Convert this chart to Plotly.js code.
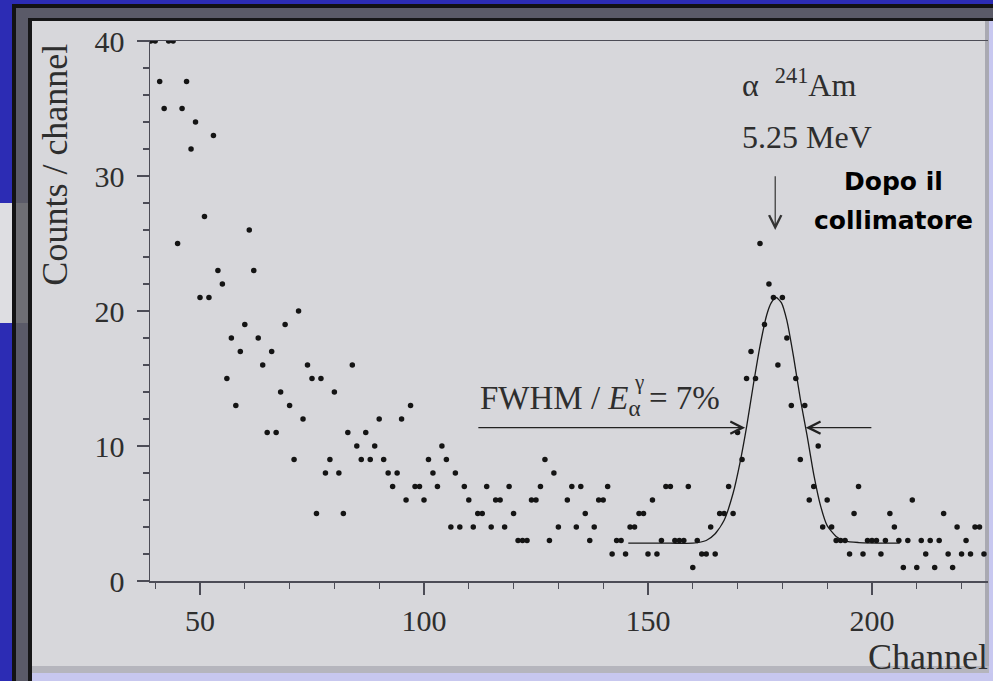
<!DOCTYPE html>
<html>
<head>
<meta charset="utf-8">
<script src="https://cdn.plot.ly/plotly-3.0.1.min.js"></script>
<style>
html,body{margin:0;padding:0;width:993px;height:681px;overflow:hidden;background:#2c2cb4;}
.b{position:absolute;}
#chart{position:absolute;left:0;top:0;width:993px;height:681px;}
</style>
</head>
<body>
<div class="b" style="left:0;top:203px;width:12px;height:120px;background:#dedee2;"></div>
<div class="b" style="left:12px;top:4px;right:0;bottom:0;background:#121214;"></div>
<div class="b" style="left:16px;top:8px;right:0;bottom:0;background:#5a5a68;"></div>
<div class="b" style="left:16px;top:203px;width:12px;height:120px;background:#6e6e74;"></div>
<div class="b" style="left:28px;top:18px;right:0;bottom:0;background:#161618;"></div>
<div class="b" style="left:32px;top:21px;right:0;bottom:0;background:#d7d7db;"></div>
<div class="b" style="left:985px;top:21px;width:4px;height:647px;background:#a9a9b2;"></div>
<div class="b" style="left:989px;top:21px;width:4px;height:660px;background:#c8c8f0;"></div>
<div class="b" style="left:32px;top:666px;right:4px;height:7px;background:#b5b5bd;"></div>
<div class="b" style="left:32px;top:673px;right:0;height:8px;background:#c7c7ef;"></div>
<div id="chart"></div>
<script>
// Channel numbers and counts (null = no point drawn)
var channels = [39,40,41,42,43,44,45,46,47,48,49,50,51,52,53,54,55,56,57,58,59,60,61,62,63,64,65,66,67,68,69,70,71,72,73,74,75,76,77,78,79,80,81,82,83,84,85,86,87,88,89,90,91,92,93,94,95,96,97,98,99,100,101,102,103,104,105,106,107,108,109,110,111,112,113,114,115,116,117,118,119,120,121,122,123,124,125,126,127,128,129,130,131,132,133,134,135,136,137,138,139,140,141,142,143,144,145,146,147,148,149,150,151,152,153,154,155,156,157,158,159,160,161,162,163,164,165,166,167,168,169,170,171,172,173,174,175,176,177,178,179,180,181,182,183,184,185,186,187,188,189,190,191,192,193,194,195,196,197,198,199,200,201,202,203,204,205,206,207,208,209,210,211,212,213,214,215,216,217,218,219,220,221,222,223,224,225];
var counts = [40,40,37,35,40,40,25,35,37,32,34,21,27,21,33,23,22,15,18,13,17,19,26,23,18,16,11,17,11,14,19,13,9,20,12,16,15,5,15,8,9,14,8,5,11,16,10,9,11,9,10,12,9,8,7,8,12,6,13,7,7,6,9,8,7,10,9,4,8,4,7,6,4,5,5,7,4,6,6,4,7,5,3,3,3,6,6,7,9,3,8,4,null,6,7,4,7,5,3,4,6,6,7,2,3,3,2,4,4,5,5,2,6,2,3,7,7,3,3,3,7,1,3,2,2,4,2,5,5,7,5,11,9,15,17,15,25,19,22,21,16,21,18,13,15,9,13,6,7,10,4,6,4,3,3,3,2,5,7,2,3,3,3,2,3,5,4,3,1,3,6,1,3,2,3,1,3,5,2,1,4,2,3,2,4,4,2];

// Gaussian fit curve
var fitX = [145.6,150,155,160,163,165,167,169,170.5,172,173.5,175,176.5,177.5,178.6,179.8,181,182.5,184,185.5,187,188.5,190,192,194,197,206.2];
var fitY = [2.8,2.8,2.8,2.8,3.0,3.5,4.5,6.5,8.7,11.4,14.5,17.4,19.7,20.6,21.0,20.6,19.3,16.6,13.5,10.8,7.9,5.6,4.1,3.3,2.95,2.85,2.8];

var xTickStep = 50, xMinorStep = 10, yTickStep = 10, yMinorStep = 2;

var serif = 'Liberation Serif, Times New Roman, serif';
var txt = '#2e2e2e';
var axc = '#4c4c56';

var traces = [
  {x: fitX, y: fitY, mode: 'lines', type: 'scatter', line: {color: '#1a1a1a', width: 1.3, shape: 'spline', smoothing: 0.6}, hoverinfo: 'skip'},
  {x: channels, y: counts, mode: 'markers', type: 'scatter', marker: {color: '#141414', size: 5.5}, cliponaxis: true}
];

var annotations = [
  {xref:'paper', yref:'paper', x:-0.1134, y:0.771, xanchor:'center', yanchor:'middle', text:'Counts / channel', textangle:-90, showarrow:false, font:{family:serif, size:36, color:txt}},
  {xref:'paper', yref:'paper', x:1.0024, y:-0.1407, xanchor:'right', yanchor:'middle', text:'Channel', showarrow:false, font:{family:serif, size:36, color:txt}},
  {xref:'x', yref:'y', x:170.5, y:36.9, xanchor:'left', yanchor:'middle', text:'α\u2002<sup>241</sup>Am', showarrow:false, font:{family:serif, size:32, color:txt}},
  {xref:'x', yref:'y', x:170.5, y:32.9, xanchor:'left', yanchor:'middle', text:'5.25 MeV', showarrow:false, font:{family:serif, size:32, color:txt}},
  {xref:'x', yref:'y', x:178.4, y:26.0, axref:'x', ayref:'y', ax:178.4, ay:30.1, text:'', showarrow:true, arrowhead:5, arrowsize:2, arrowwidth:1.2, arrowcolor:'#333'},
  {xref:'x', yref:'y', x:204.9, y:29.6, xanchor:'center', yanchor:'middle', text:'<b>Dopo il</b>', showarrow:false, font:{family:'DejaVu Sans, sans-serif', size:25, color:'#000'}},
  {xref:'x', yref:'y', x:204.9, y:26.7, xanchor:'center', yanchor:'middle', text:'<b>collimatore</b>', showarrow:false, font:{family:'DejaVu Sans, sans-serif', size:25, color:'#000'}},
  {xref:'x', yref:'y', x:112.1, y:13.4, xanchor:'left', yanchor:'middle', text:'FWHM / <i>E</i><sub>α</sub> = 7%', showarrow:false, font:{family:serif, size:33, color:txt}},
  {xref:'x', yref:'y', x:148.0, y:14.75, xanchor:'center', yanchor:'middle', text:'γ', showarrow:false, font:{family:serif, size:21, color:txt}},
  {xref:'x', yref:'y', x:171.7, y:11.36, axref:'x', ayref:'y', ax:111.8, ay:11.36, text:'', showarrow:true, arrowhead:5, arrowsize:2, arrowwidth:1.2, arrowcolor:'#222'},
  {xref:'x', yref:'y', x:185.2, y:11.36, axref:'x', ayref:'y', ax:200.2, ay:11.36, text:'', showarrow:true, arrowhead:5, arrowsize:2, arrowwidth:1.2, arrowcolor:'#222'}
];

var layout = {
  width: 993, height: 681,
  margin: {l:150, r:5, t:41, b:100, pad:0},
  paper_bgcolor: 'rgba(0,0,0,0)',
  plot_bgcolor: 'rgba(0,0,0,0)',
  showlegend: false,
  xaxis: {
    range: [38.84, 225.9], showgrid:false, zeroline:false,
    showline:true, linecolor:axc, linewidth:1.5, mirror:true,
    ticks:'outside', ticklen:12, tickwidth:1.5, tickcolor:axc,
    tick0:0, dtick:xTickStep,
    minor:{tick0:0, dtick:xMinorStep, ticks:'outside', ticklen:6, tickwidth:1.2, tickcolor:axc},
    tickfont:{family:serif, size:30, color:txt}
  },
  yaxis: {
    range: [0, 40], showgrid:false, zeroline:false,
    showline:true, linecolor:axc, linewidth:1.5,
    ticks:'outside', ticklen:12, tickwidth:1.5, tickcolor:axc,
    tick0:0, dtick:yTickStep, ticklabelstandoff:6,
    minor:{tick0:0, dtick:yMinorStep, ticks:'outside', ticklen:6, tickwidth:1.2, tickcolor:axc},
    tickfont:{family:serif, size:30, color:txt}
  },
  annotations: annotations
};

Plotly.newPlot('chart', traces, layout, {displayModeBar:false, staticPlot:true});
</script>
</body>
</html>
